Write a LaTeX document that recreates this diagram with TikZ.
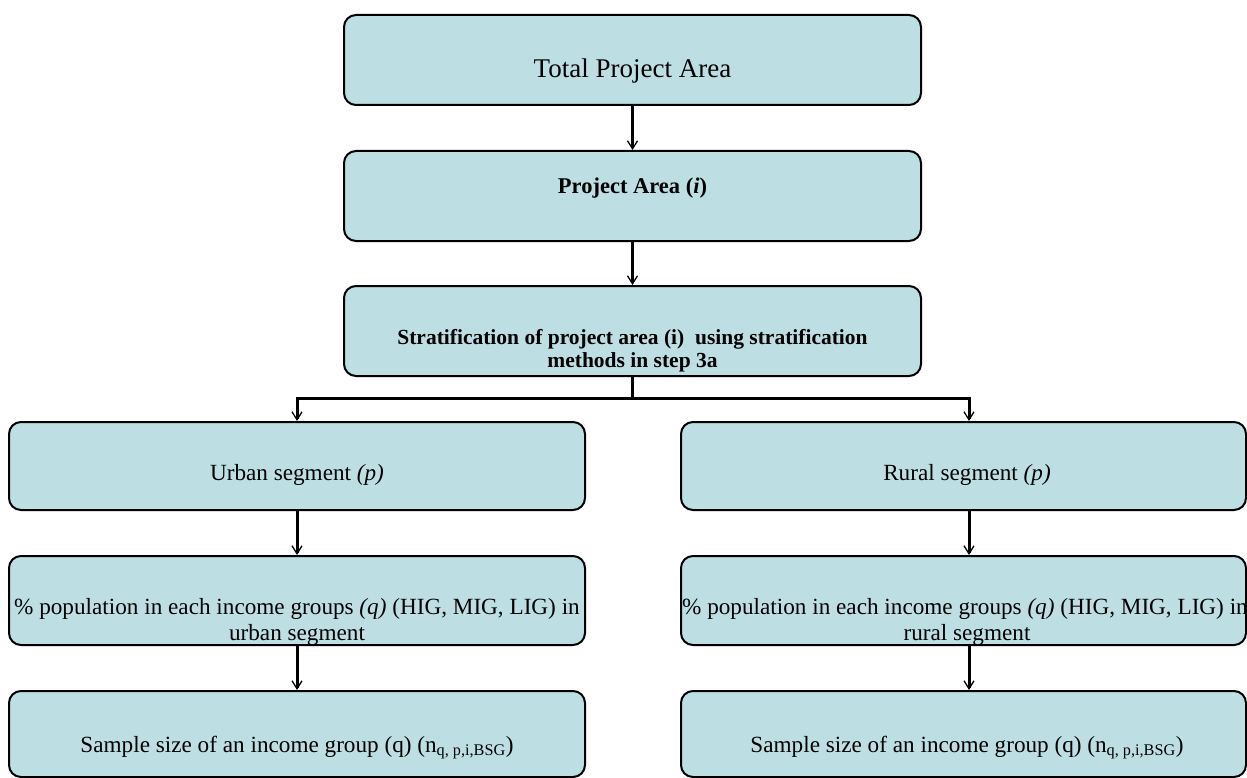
\documentclass[tikz,border=0pt]{standalone}
\usepackage{fontspec}
\setmainfont{Liberation Serif}
\usetikzlibrary{arrows.meta}
\definecolor{boxfill}{RGB}{189,223,227}
\begin{document}
\begin{tikzpicture}[x=1pt,y=-1pt,
  box/.style={draw=black, line width=2pt, fill=boxfill, rounded corners=12pt, inner sep=0pt},
  conn/.style={line width=3pt, -{Straight Barb[length=8pt,width=10pt,line width=1.3pt]}},
  plain/.style={line width=3pt},
  txt/.style={font=\fontsize{23.2}{25}\selectfont, anchor=base, inner sep=0pt},
  bigtxt/.style={font=\fontsize{27}{29}\selectfont, anchor=base, inner sep=0pt},
  boldtxt/.style={font=\fontsize{22.5}{24}\selectfont\bfseries, anchor=base, inner sep=0pt},
  strattxt/.style={font=\fontsize{21.5}{23}\selectfont\bfseries, anchor=base, inner sep=0pt},
]
\useasboundingbox (0,0) rectangle (1247,778);

% boxes
\node[box, minimum width=577pt, minimum height=90pt] (total) at (632.5,60) {};
\node[box, minimum width=577pt, minimum height=90pt] (area) at (632.5,196) {};
\node[box, minimum width=577pt, minimum height=90pt] (strat) at (632.5,331) {};
\node[box, minimum width=576pt, minimum height=88pt] (urban) at (297,466) {};
\node[box, minimum width=576pt, minimum height=89pt] (urbpop) at (297,600.5) {};
\node[box, minimum width=576pt, minimum height=86pt] (urbsam) at (297,734) {};
\node[box, minimum width=565pt, minimum height=88pt] (rural) at (963.5,466) {};
\node[box, minimum width=565pt, minimum height=89pt] (rurpop) at (963.5,600.5) {};
\node[box, minimum width=565pt, minimum height=86pt] (rursam) at (963.5,734) {};

% texts
\node[bigtxt] (ttotal) at (632.5,78) {Total Project Area};
\node[boldtxt] (tarea) at (632.5,194) {Project Area (\textit{i})};
\node[strattxt] (tstrat1) at (632.5,344) {Stratification of project area (i)\ \ using stratification};
\node[strattxt] (tstrat2) at (632.5,367) {methods in step 3a};
\node[txt] (turban) at (297,480) {Urban segment \textit{(p)}};
\node[txt] (turbpop1) at (297,614) {\% population in each income groups \textit{(q)} (HIG, MIG, LIG) in};
\node[txt] (turbpop2) at (297,640) {urban segment};
\node[txt] (turbsam) at (297,752) {Sample size of an income group (q) (n\textsubscript{q, p,i,BSG})};
\node[txt] (trural) at (967,480) {Rural segment \textit{(p)}};
\node[txt] (trurpop1) at (965,614) {\% population in each income groups \textit{(q)} (HIG, MIG, LIG) in};
\node[txt] (trurpop2) at (967,640) {rural segment};
\node[txt] (trursam) at (967,752) {Sample size of an income group (q) (n\textsubscript{q, p,i,BSG})};

% connectors
\coordinate (rx) at (969,0);
\draw[conn] (total.south) -- (area.north);
\draw[conn] (area.south) -- (strat.north);
\coordinate (split) at (632.5,398);
\draw[plain] (strat.south) -- (split);
\draw[conn] (split) -| (urban.north);
\draw[conn] (split) -| (rx |- rural.north);
\draw[conn] (urban.south) -- (urbpop.north);
\draw[conn] (urbpop.south) -- (urbsam.north);
\draw[conn] (rx |- rural.south) -- (rx |- rurpop.north);
\draw[conn] (rx |- rurpop.south) -- (rx |- rursam.north);
\end{tikzpicture}
\end{document}
